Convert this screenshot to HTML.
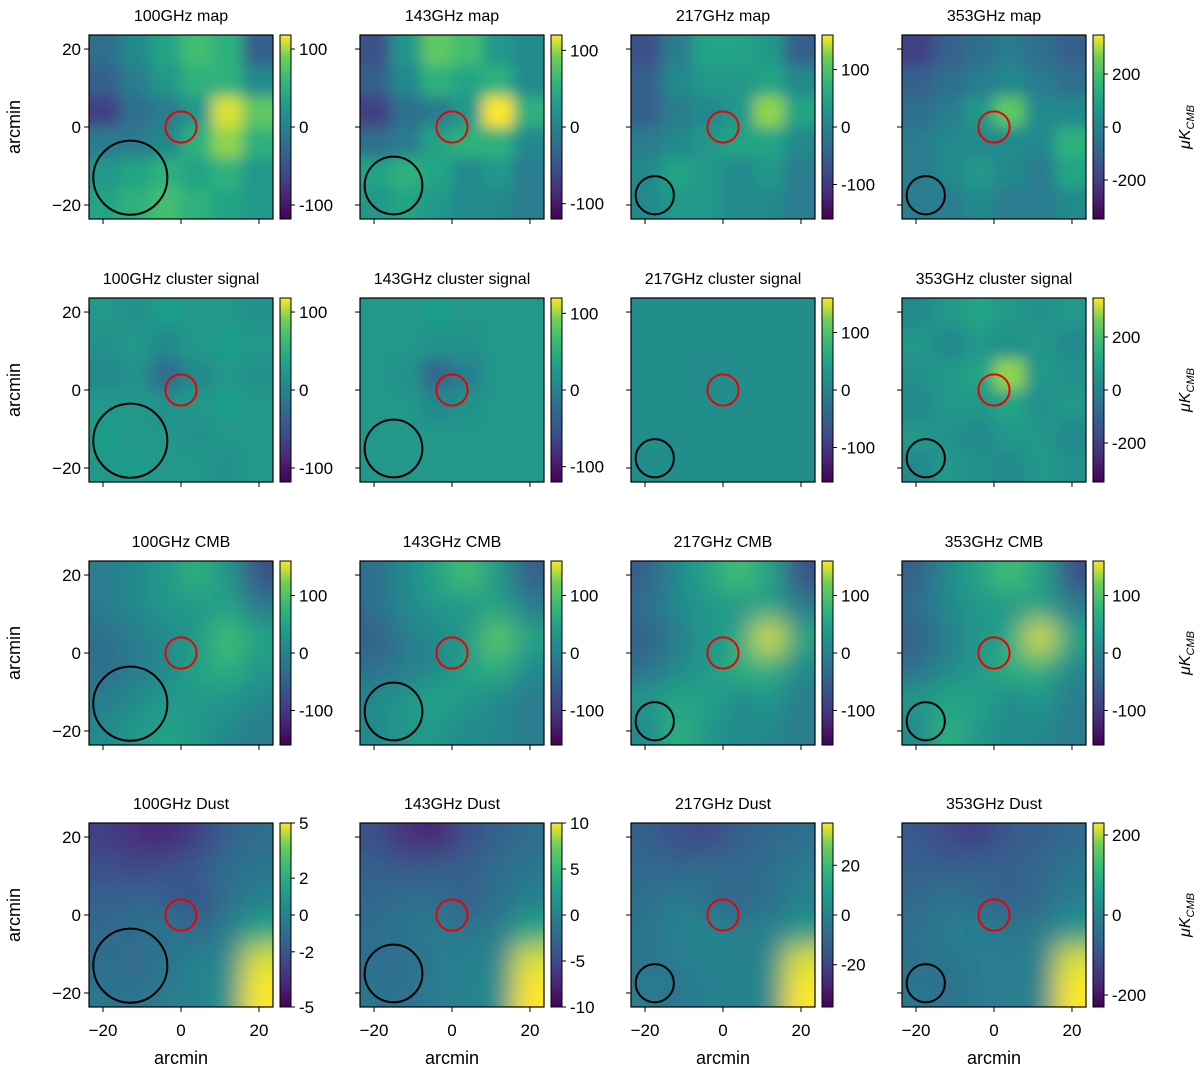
<!DOCTYPE html>
<html><head><meta charset="utf-8"><style>
body{margin:0;background:#fff}
svg{display:block;font-family:"Liberation Sans","DejaVu Sans",sans-serif}
</style></head><body>
<svg id="fig" width="1200" height="1074" viewBox="0 0 1200 1074" xmlns="http://www.w3.org/2000/svg">
<defs>
<filter id="blurS" filterUnits="userSpaceOnUse" x="0" y="0" width="1200" height="1074"><feGaussianBlur stdDeviation="13"/></filter>
<filter id="blurM" filterUnits="userSpaceOnUse" x="0" y="0" width="1200" height="1074"><feGaussianBlur stdDeviation="7"/></filter>
<linearGradient id="viridis" x1="0" y1="1" x2="0" y2="0">
<stop offset="0" stop-color="#440154"/><stop offset="0.13" stop-color="#482878"/><stop offset="0.25" stop-color="#3e4a89"/><stop offset="0.38" stop-color="#31688e"/><stop offset="0.5" stop-color="#26828e"/><stop offset="0.63" stop-color="#1f9e89"/><stop offset="0.75" stop-color="#35b779"/><stop offset="0.88" stop-color="#6ece58"/><stop offset="1" stop-color="#fde725"/>
</linearGradient>
</defs>
</svg>
<script>
// ---- data ----
const freqs = ["100GHz","143GHz","217GHz","353GHz"];
const rowNames = ["map","cluster signal","CMB","Dust"];
const beamRadius = [9.5, 7.4, 4.9, 4.9];      // arcmin
const beamCenter = [-13, -15, -17.5, -17.5]; // arcmin
const cbarRange = [[118,120,160,347],[118,120,160,347],[160,160,160,160],[5,10,37,230]];
const cbarTicks = [
 [[-100,0,100],[-100,0,100],[-100,0,100],[-200,0,200]],
 [[-100,0,100],[-100,0,100],[-100,0,100],[-200,0,200]],
 [[-100,0,100],[-100,0,100],[-100,0,100],[-100,0,100]],
 [[-5,-2,0,2,5],[-10,-5,0,5,10],[-20,0,20],[-200,0,200]]
];
const axisTicks = [-20,0,20];
// normalized map values 0..1 (6x6, top row first)
const grids = [
 [
  [[0.35,0.45,0.55,0.65,0.6,0.3],[0.3,0.4,0.5,0.6,0.6,0.45],[0.2,0.35,0.4,0.5,0.8,0.7],[0.4,0.4,0.45,0.6,0.75,0.6],[0.5,0.55,0.6,0.55,0.6,0.5],[0.55,0.6,0.65,0.6,0.55,0.5]],
  [[0.25,0.5,0.7,0.65,0.5,0.45],[0.3,0.45,0.6,0.55,0.6,0.45],[0.2,0.35,0.4,0.5,0.85,0.6],[0.35,0.4,0.55,0.6,0.6,0.45],[0.55,0.6,0.55,0.45,0.5,0.4],[0.5,0.55,0.5,0.45,0.45,0.4]],
  [[0.25,0.4,0.55,0.55,0.5,0.3],[0.3,0.45,0.5,0.5,0.55,0.45],[0.3,0.4,0.45,0.5,0.75,0.55],[0.4,0.45,0.5,0.55,0.55,0.45],[0.45,0.55,0.5,0.45,0.5,0.4],[0.45,0.5,0.5,0.45,0.45,0.4]],
  [[0.2,0.3,0.35,0.4,0.35,0.3],[0.3,0.35,0.4,0.45,0.4,0.35],[0.35,0.4,0.5,0.7,0.45,0.45],[0.4,0.45,0.45,0.45,0.45,0.6],[0.4,0.45,0.5,0.45,0.4,0.55],[0.4,0.4,0.45,0.4,0.4,0.45]]
 ],
 [
  [[0.5,0.48,0.52,0.5,0.5,0.48],[0.48,0.5,0.45,0.5,0.52,0.5],[0.45,0.48,0.35,0.45,0.5,0.48],[0.5,0.5,0.48,0.5,0.52,0.5],[0.52,0.5,0.5,0.48,0.5,0.5],[0.5,0.52,0.5,0.5,0.48,0.5]],
  [[0.5,0.5,0.52,0.5,0.5,0.5],[0.5,0.5,0.48,0.48,0.5,0.5],[0.5,0.48,0.33,0.42,0.5,0.5],[0.5,0.5,0.45,0.48,0.5,0.5],[0.5,0.5,0.5,0.5,0.5,0.5],[0.5,0.5,0.5,0.5,0.5,0.5]],
  [[0.47,0.47,0.47,0.47,0.47,0.47],[0.47,0.47,0.47,0.47,0.47,0.47],[0.47,0.47,0.46,0.47,0.47,0.47],[0.47,0.47,0.47,0.47,0.47,0.47],[0.47,0.47,0.47,0.47,0.47,0.47],[0.47,0.47,0.47,0.47,0.47,0.47]],
  [[0.45,0.5,0.55,0.5,0.48,0.5],[0.5,0.45,0.5,0.48,0.5,0.45],[0.48,0.5,0.55,0.75,0.5,0.48],[0.45,0.5,0.5,0.55,0.48,0.5],[0.5,0.48,0.45,0.5,0.5,0.45],[0.45,0.5,0.48,0.45,0.5,0.48]]
 ],
 [
  [[0.4,0.45,0.5,0.6,0.5,0.25],[0.4,0.45,0.5,0.5,0.55,0.4],[0.35,0.4,0.45,0.5,0.65,0.55],[0.35,0.4,0.45,0.55,0.6,0.5],[0.4,0.45,0.5,0.5,0.5,0.45],[0.45,0.5,0.55,0.5,0.45,0.4]],
  [[0.35,0.45,0.55,0.65,0.5,0.3],[0.35,0.45,0.5,0.5,0.55,0.4],[0.3,0.4,0.45,0.5,0.7,0.55],[0.35,0.4,0.45,0.55,0.6,0.45],[0.45,0.5,0.55,0.5,0.45,0.4],[0.45,0.5,0.5,0.45,0.45,0.4]],
  [[0.3,0.45,0.55,0.65,0.55,0.25],[0.35,0.45,0.5,0.5,0.55,0.4],[0.3,0.4,0.5,0.55,0.8,0.55],[0.35,0.45,0.5,0.6,0.6,0.45],[0.5,0.55,0.55,0.45,0.5,0.4],[0.45,0.6,0.5,0.45,0.45,0.4]],
  [[0.3,0.45,0.55,0.65,0.55,0.25],[0.35,0.45,0.5,0.5,0.55,0.4],[0.3,0.4,0.5,0.55,0.8,0.55],[0.35,0.45,0.5,0.6,0.6,0.45],[0.5,0.55,0.55,0.45,0.5,0.4],[0.45,0.6,0.5,0.45,0.45,0.4]]
 ],
 [
  [[0.2,0.15,0.12,0.2,0.3,0.35],[0.25,0.22,0.25,0.28,0.35,0.38],[0.3,0.32,0.3,0.25,0.35,0.42],[0.33,0.35,0.38,0.33,0.4,0.55],[0.35,0.33,0.38,0.42,0.45,0.8],[0.38,0.36,0.4,0.42,0.48,0.9]],
  [[0.25,0.15,0.12,0.25,0.3,0.35],[0.3,0.28,0.3,0.3,0.35,0.38],[0.32,0.35,0.35,0.3,0.35,0.42],[0.35,0.38,0.4,0.38,0.4,0.55],[0.35,0.35,0.4,0.42,0.44,0.8],[0.38,0.36,0.4,0.42,0.46,0.9]],
  [[0.3,0.25,0.22,0.3,0.32,0.35],[0.33,0.32,0.35,0.33,0.35,0.4],[0.35,0.4,0.35,0.32,0.35,0.42],[0.38,0.42,0.45,0.4,0.42,0.5],[0.38,0.4,0.42,0.42,0.44,0.8],[0.4,0.38,0.42,0.42,0.45,0.85]],
  [[0.28,0.22,0.2,0.28,0.3,0.33],[0.3,0.3,0.32,0.3,0.33,0.38],[0.33,0.38,0.33,0.3,0.33,0.4],[0.36,0.4,0.42,0.38,0.4,0.5],[0.36,0.38,0.4,0.4,0.42,0.8],[0.38,0.36,0.4,0.4,0.43,0.85]]
 ]
];
// ---- layout ----
const colX = [89,360,631,902], rowY = [35,298,561,823], S = 184;
const stops = [[68,1,84],[72,40,120],[62,74,137],[49,104,142],[38,130,142],[31,158,137],[53,183,121],[110,206,88],[253,231,37]];
function viridis(t){t=Math.max(0,Math.min(1,t));const f=t*8,i=Math.min(7,Math.floor(f)),r=f-i;const a=stops[i],b=stops[i+1];return `rgb(${Math.round(a[0]+(b[0]-a[0])*r)},${Math.round(a[1]+(b[1]-a[1])*r)},${Math.round(a[2]+(b[2]-a[2])*r)})`;}
function tone(t){return 0.53 + (t-0.45)*1.25;}
const svg = document.getElementById('fig'); const NS="http://www.w3.org/2000/svg";
function mk(tag, attrs, parent){const e=document.createElementNS(NS,tag);for(const k in attrs)e.setAttribute(k,attrs[k]);(parent||svg).appendChild(e);return e;}
function txt(s, attrs, parent){const e=mk('text',attrs,parent);e.textContent=s;return e;}
const defs = svg.querySelector('defs');
for(let r=0;r<4;r++){for(let c=0;c<4;c++){
  const x0=colX[c], y0=rowY[r];
  const sx = a => x0 + (a+23.6)/47.2*S;
  const sy = a => y0 + (23.6-a)/47.2*S;
  const cp=mk('clipPath',{id:`cp${r}${c}`},defs); mk('rect',{x:x0,y:y0,width:S,height:S},cp);
  const panel=mk('g',{'clip-path':`url(#cp${r}${c})`});
  
  
  const g=mk('g',{filter:(r===0||r===1)?'url(#blurM)':'url(#blurS)'},panel);
  const grid=grids[r][c], n=grid.length, cw=S/n;
  for(let i=0;i<n;i++)for(let j=0;j<n;j++){
    const ex0=j===0?40:0, ex1=j===n-1?40:0, ey0=i===0?40:0, ey1=i===n-1?40:0;
    const cell=mk('rect',{x:x0+j*cw-ex0,y:y0+i*cw-ey0,width:cw+ex0+ex1+0.5,height:cw+ey0+ey1+0.5,fill:viridis(tone(grid[i][j]))},g);
    
    
  }
  mk('rect',{x:x0,y:y0,width:S,height:S,fill:'none',stroke:'#000','stroke-width':1.2});
  const rc=mk('circle',{cx:sx(0),cy:sy(0),r:4*S/47.2,fill:'none',stroke:'#e00','stroke-width':2});
   
  const bc=mk('circle',{cx:sx(beamCenter[c]),cy:sy(beamCenter[c]),r:beamRadius[c]*S/47.2,fill:'none',stroke:'#000','stroke-width':2});
   
  const t=txt(`${freqs[c]} ${rowNames[r]}`,{x:x0+S/2,y:y0-14,'text-anchor':'middle','font-size':16});
   
  for(const v of axisTicks){
    mk('line',{x1:sx(v),x2:sx(v),y1:y0+S,y2:y0+S+5,stroke:'#000'});
    mk('line',{x1:x0-5,x2:x0,y1:sy(v),y2:sy(v),stroke:'#000'});
    if(r===3){const l=txt(v<0?'\u2212'+(-v):String(v),{x:sx(v),y:y0+S+29,'text-anchor':'middle','font-size':17});
       }
    if(c===0){const l=txt(v<0?'\u2212'+(-v):String(v),{x:x0-8,y:sy(v)+6,'text-anchor':'end','font-size':17});
       }
  }
  if(r===3){const l=txt('arcmin',{x:x0+S/2,y:y0+S+57,'text-anchor':'middle','font-size':18});
     }
  if(c===0){const l=txt('arcmin',{x:0,y:0,'text-anchor':'middle','font-size':18,transform:`translate(20,${y0+S/2}) rotate(-90)`});
     }
  // colorbar
  const bx=x0+S+7, bw=11;
  const cb=mk('rect',{x:bx,y:y0,width:bw,height:S,fill:'url(#viridis)',stroke:'#000','stroke-width':1});
   
  const R=cbarRange[r][c];
  for(const v of cbarTicks[r][c]){
    const yy=y0+S/2 - v/R*S/2;
    mk('line',{x1:bx+bw,x2:bx+bw+4,y1:yy,y2:yy,stroke:'#000'});
    const l=txt(v<0?'-'+(-v):String(v),{x:bx+bw+8,y:yy+6,'font-size':17});
     
  }
  if(c===3){const l=mk('text',{x:0,y:0,'text-anchor':'middle','font-size':16,transform:`translate(1190,${y0+S/2}) rotate(-90)`});
    l.innerHTML='<tspan font-style="italic">\u03bcK</tspan><tspan font-size="11" dy="4" font-style="italic">CMB</tspan>';
     }
}}
</script>
</body></html>
